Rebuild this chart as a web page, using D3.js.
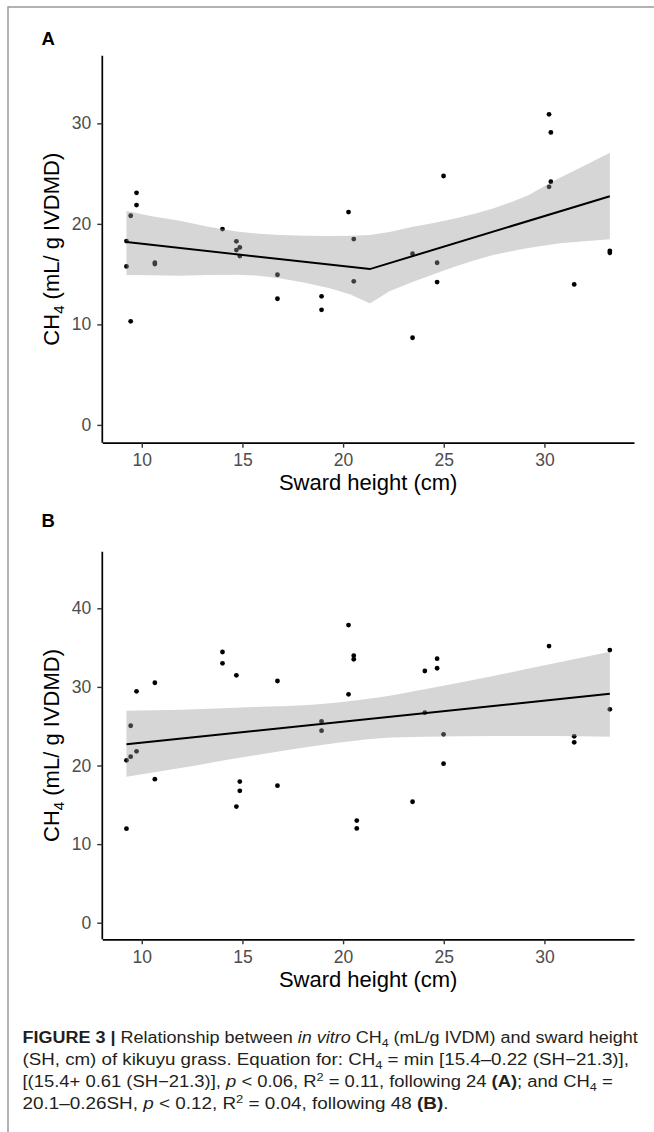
<!DOCTYPE html>
<html>
<head>
<meta charset="utf-8">
<script src="https://cdn.jsdelivr.net/npm/d3@7"></script>
<style>
  body { margin: 0; background: #fff; }
  svg text { font-family: "Liberation Sans", Arial, Helvetica, sans-serif; }
</style>
</head>
<body>
<svg id="fig" width="654" height="1132"></svg>
<script>
// ---- data ----
var xTicks = [10, 15, 20, 25, 30];
var yTicksA = [0, 10, 20, 30];
var yTicksB = [0, 10, 20, 30, 40];

// panel A : sward height vs CH4
var shA  = [9.24, 9.24, 9.45, 9.45, 9.74, 9.74, 10.65, 10.65, 14.01, 14.70, 14.70, 14.87, 14.87, 16.74, 16.74, 18.93,
            18.93, 20.27, 20.53, 20.53, 23.45, 23.45, 24.67, 24.67, 24.99, 30.23, 30.23, 30.32, 30.32, 31.48, 33.25, 33.25];
var ch4A = [18.29, 15.77, 20.81, 10.30, 23.09, 21.87, 16.13, 16.00, 19.48, 18.26, 17.39, 17.66, 16.80, 14.94, 12.55, 12.79,
            11.45, 21.17, 18.49, 14.28, 17.03, 8.67, 16.13, 14.21, 24.76, 30.90, 23.69, 29.10, 24.19, 13.98, 17.32, 17.12];
// fitted segmented line and its confidence band
var fitA_x = [9.24, 21.33, 33.25];
var fitA_y = [18.2, 15.5, 22.75];
var bandA_x  = [9.24, 10.5, 11.89, 13.3, 14.70, 15.8, 16.86, 18.1, 19.34, 20.4, 21.33, 22.3, 23.48, 24.5, 25.5, 26.5, 27.45, 28.4, 29.2, 30.0, 30.77, 32.0, 33.25];
var bandA_hi = [21.27, 20.75, 20.3, 19.72, 19.25, 19.02, 18.9, 18.83, 18.8, 18.82, 18.9, 19.2, 19.71, 20.08, 20.5, 20.98, 21.54, 22.2, 22.85, 23.75, 24.6, 25.8, 27.07];
var bandA_lo = [14.91, 14.9, 14.85, 14.92, 14.95, 14.85, 14.6, 14.15, 13.6, 12.95, 12.09, 13.3, 14.24, 15.0, 15.7, 16.35, 16.9, 17.3, 17.6, 17.85, 18.06, 18.28, 18.46];

// panel B
var shB  = [9.24, 9.24, 9.45, 9.45, 9.74, 9.74, 10.65, 10.65, 14.01, 14.01, 14.70, 14.70, 14.87, 14.87, 16.74, 16.74,
            18.93, 18.93, 20.27, 20.27, 20.53, 20.53, 20.68, 20.68, 23.45, 24.06, 24.06, 24.67, 24.67, 24.99, 24.99,
            30.23, 31.48, 31.48, 33.25, 33.25];
var ch4B = [20.66, 11.96, 25.06, 21.12, 29.44, 21.81, 30.53, 18.26, 34.44, 33.0, 31.47, 14.78, 17.95, 16.78, 30.75, 17.43,
            25.62, 24.43, 37.87, 29.06, 33.97, 33.51, 13.0, 12.0, 15.39, 32.02, 26.72, 33.59, 32.37, 23.97, 20.23,
            35.2, 23.71, 22.95, 34.69, 27.15];
var fitB_x = [9.24, 33.25];
var fitB_y = [22.7, 29.13];
var bandB_x  = [9.24, 12.0, 14.70, 18.93, 21.82, 24.06, 27.45, 30.5, 33.25];
var bandB_hi = [26.97, 27.1, 27.36, 27.82, 28.68, 29.69, 31.39, 33.0, 34.48];
var bandB_lo = [18.58, 19.7, 20.91, 22.6, 23.47, 23.65, 23.75, 23.75, 23.67];

var svg = d3.select('#fig');

// figure frame (left and top rule)
svg.append('path')
    .attr('d', 'M8,1132 V7 H654')
    .attr('fill', 'none')
    .attr('stroke', '#999')
    .attr('stroke-width', 1.5);

var x = d3.scaleLinear().domain([8.04, 34.45]).range([102.3, 634]);

function drawPanel(cfg) {
    var y = d3.scaleLinear().domain(cfg.ydom).range([cfg.bottom, cfg.top]);
    var g = svg.append('g');

    // points first, the band sits on top of them like in ggplot
    g.selectAll('circle')
        .data(cfg.sh)
        .enter()
        .append('circle')
        .attr('cx', function(d){ return x(d); })
        .attr('cy', function(d, i){ return y(cfg.ch4[i]); })
        .attr('r', 2.4)
        .attr('fill', '#000');

    var band = cfg.bx.map(function(v, i){ return {x: v, hi: cfg.bhi[i], lo: cfg.blo[i]}; });
    var area = d3.area()
        .x(function(d){ return x(d.x); })
        .y0(function(d){ return y(d.lo); })
        .y1(function(d){ return y(d.hi); })
        .curve(cfg.curve);
    g.append('path')
        .datum(band)
        .attr('d', area)
        .attr('fill', '#999')
        .attr('fill-opacity', 0.4);

    var fit = cfg.fx.map(function(v, i){ return [v, cfg.fy[i]]; });
    g.append('path')
        .datum(fit)
        .attr('d', d3.line().x(function(d){ return x(d[0]); }).y(function(d){ return y(d[1]); }))
        .attr('fill', 'none')
        .attr('stroke', '#000')
        .attr('stroke-width', 2);

    // axes
    var yAxis = d3.axisLeft(y).tickValues(cfg.yticks).tickSize(5).tickSizeOuter(0).tickPadding(6);
    var xAxis = d3.axisBottom(x).tickValues(xTicks).tickSize(5).tickSizeOuter(0).tickPadding(6);

    var ya = g.append('g').attr('transform', 'translate(102.3,0)').call(yAxis);
    var xa = g.append('g').attr('transform', 'translate(0,' + cfg.bottom + ')').call(xAxis);

    [ya, xa].forEach(function(a){
        a.select('.domain').attr('stroke', '#000').attr('stroke-width', 1.7);
        a.selectAll('.tick line').attr('stroke', '#333').attr('stroke-width', 1.4);
        a.selectAll('.tick text')
            .attr('fill', '#4d4d4d')
            .style('font-size', '17.5px')
            .style('font-family', '"Liberation Sans", Arial, sans-serif');
    });
    ya.select('.domain').attr('d', 'M0,' + cfg.top + 'V' + cfg.bottom);

    // panel letter
    svg.append('text')
        .attr('x', 41.5)
        .attr('y', cfg.top - 10.7 - (cfg.letterGap || 0))
        .attr('font-weight', 'bold')
        .style('font-size', '18.5px')
        .attr('fill', '#000')
        .text(cfg.letter);

    // axis titles
    svg.append('text')
        .attr('x', (102.3 + 634) / 2)
        .attr('y', cfg.bottom + 47.5)
        .attr('text-anchor', 'middle')
        .style('font-size', '22px')
        .attr('fill', '#000')
        .text('Sward height (cm)');

    var yl = svg.append('text')
        .attr('transform', 'translate(58.5,' + ((cfg.top + cfg.bottom) / 2) + ') rotate(-90)')
        .attr('text-anchor', 'middle')
        .style('font-size', '22px')
        .attr('fill', '#000');
    yl.append('tspan').text('CH');
    yl.append('tspan').attr('dy', 5).style('font-size', '15px').text('4');
    yl.append('tspan').attr('dy', -5).text(' (mL/ g IVDMD)');
}

drawPanel({letter: 'A', sh: shA, ch4: ch4A, fx: fitA_x, fy: fitA_y,
           bx: bandA_x, bhi: bandA_hi, blo: bandA_lo, curve: d3.curveLinear,
           ydom: [-1.77, 36.73], top: 55.7, bottom: 442.7, yticks: yTicksA});
drawPanel({letter: 'B', sh: shB, ch4: ch4B, fx: fitB_x, fy: fitB_y,
           bx: bandB_x, bhi: bandB_hi, blo: bandB_lo, curve: d3.curveMonotoneX,
           ydom: [-2.11, 47.2], top: 551.7, bottom: 939.3, yticks: yTicksB, letterGap: 14});

// caption
var capLines = [
    [{t: 'FIGURE 3 | ', b: 1}, {t: 'Relationship between '}, {t: 'in vitro', i: 1}, {t: ' CH'}, {t: '4', sub: 1},
     {t: ' (mL/g IVDM) and sward height'}],
    [{t: '(SH, cm) of kikuyu grass. Equation for: CH'}, {t: '4', sub: 1}, {t: ' = min [15.4\u20130.22 (SH\u221221.3)],'}],
    [{t: '[(15.4+ 0.61 (SH\u221221.3)], '}, {t: 'p', i: 1}, {t: ' < 0.06, R'}, {t: '2', sup: 1},
     {t: ' = 0.11, following 24 '}, {t: '(A)', b: 1}, {t: '; and CH'}, {t: '4', sub: 1}, {t: ' ='}],
    [{t: '20.1\u20130.26SH, '}, {t: 'p', i: 1}, {t: ' < 0.12, R'}, {t: '2', sup: 1}, {t: ' = 0.04, following 48 '},
     {t: '(B)', b: 1}, {t: '.'}]
];
var capBase = [1043.3, 1065.2, 1087, 1108.8];
var capStretch = [1.125, 1.17, 1.15, 1.18];

capLines.forEach(function(line, k){
    var t = svg.append('text')
        .attr('x', 22.5)
        .attr('y', capBase[k])
        .attr('fill', '#231f20')
        .style('font-size', '16px');
    var shift = 0;
    line.forEach(function(s){
        var want = s.sub ? 4 : (s.sup ? -6 : 0);
        var ts = t.append('tspan').text(s.t);
        if (want !== shift) { ts.attr('dy', want - shift); shift = want; }
        if (s.sub || s.sup) ts.style('font-size', '11px');
        if (s.b) ts.attr('font-weight', 'bold');
        if (s.i) ts.attr('font-style', 'italic');
    });
    // the printed caption face is wider than Liberation Sans at the same cap height
    var w = t.node().getComputedTextLength();
    t.attr('textLength', Math.min(w * capStretch[k], 624))
     .attr('lengthAdjust', 'spacingAndGlyphs');
});
</script>
</body>
</html>
